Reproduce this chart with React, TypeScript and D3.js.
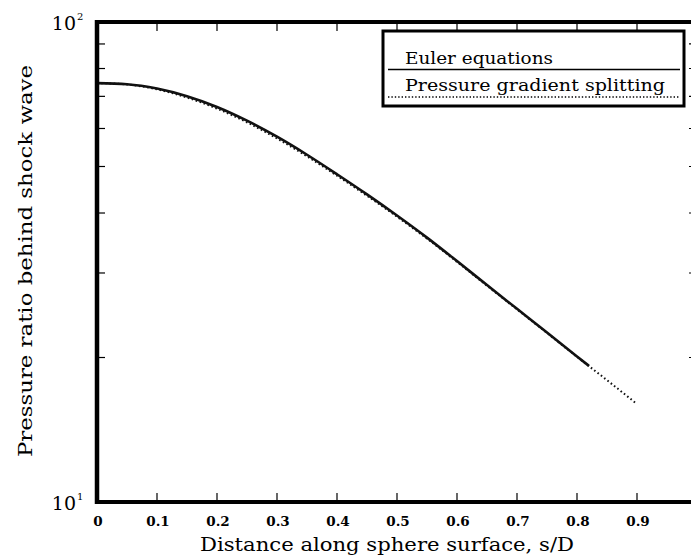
import React from 'react';
import * as d3 from 'd3';

const sEuler = [0, 0.05, 0.1, 0.15, 0.2, 0.25, 0.3, 0.35, 0.4, 0.45, 0.5, 0.55, 0.6, 0.65, 0.7, 0.75, 0.8, 0.82];
const pEuler = [74.6, 74.2, 72.68, 70.05, 66.53, 62.29, 57.68, 52.9, 48.18, 43.74, 39.53, 35.55, 31.76, 28.31, 25.26, 22.54, 20.1, 19.21];
const sSplit = [0, 0.05, 0.1, 0.15, 0.2, 0.25, 0.3, 0.35, 0.4, 0.45, 0.5, 0.55, 0.6, 0.65, 0.7, 0.75, 0.8, 0.85, 0.9];
const pSplit = [74.6, 74.1, 72.4, 69.6, 66.0, 61.8, 57.2, 52.5, 47.85, 43.45, 39.3, 35.38, 31.64, 28.22, 25.2, 22.5, 20.07, 17.94, 16.0];
const xTicks = [0, 0.1, 0.2, 0.3, 0.4, 0.5, 0.6, 0.7, 0.8, 0.9];
const yMinorTicks = [20, 30, 40, 50, 60, 70, 80, 90];
const xTitle = 'Distance along sphere surface, s/D';
const yTitle = 'Pressure ratio behind shock wave';
const legendLabels = ['Euler equations', 'Pressure gradient splitting'];

const FONT = '"DejaVu Serif", "Liberation Serif", serif';

export default function App() {
  const x = d3.scaleLinear().domain([0, 1]).range([97, 697]);
  const y = d3.scaleLog().domain([10, 100]).range([502, 22]);
  const line = d3
    .line<[number, number]>()
    .x((d) => x(d[0]))
    .y((d) => y(d[1]))
    .curve(d3.curveMonotoneX);
  const euler = line(sEuler.map((s, i) => [s, pEuler[i]] as [number, number])) || '';
  const split = line(sSplit.map((s, i) => [s, pSplit[i]] as [number, number])) || '';
  const x0 = x(0);
  const x1 = x(1);
  const yTop = y(100);
  const yBot = y(10);

  return (
    <svg
      width={691}
      height={557}
      style={{ position: 'absolute', left: 0, top: 0, background: '#fff' }}
      fontFamily={FONT}
    >
      <rect x={0} y={0} width={691} height={557} fill="#fff" />
      {/* curves */}
      <path d={split} fill="none" stroke="#111" strokeWidth={2} strokeDasharray="1.6 2.6" />
      <path d={euler} fill="none" stroke="#111" strokeWidth={2.6} />

      {/* axes frame */}
      <line x1={x0} x2={x1} y1={yTop} y2={yTop} stroke="#000" strokeWidth={4} />
      <line x1={x0} x2={x1} y1={yBot} y2={yBot} stroke="#000" strokeWidth={4} />
      <line x1={x0} x2={x0} y1={yTop - 2} y2={yBot + 2} stroke="#000" strokeWidth={4.5} />
      <line x1={x1} x2={x1} y1={yTop} y2={yBot} stroke="#000" strokeWidth={1} />

      {/* x ticks */}
      {xTicks.filter((t) => t > 0).map((t) => (
        <g key={'xt' + t}>
          <line x1={x(t)} x2={x(t)} y1={yBot} y2={yBot - 9} stroke="#000" strokeWidth={1.2} />
          <line x1={x(t)} x2={x(t)} y1={yTop} y2={yTop + 9} stroke="#000" strokeWidth={1.2} />
        </g>
      ))}
      {xTicks.map((t) => (
        <text
          key={'xl' + t}
          x={x(t) + 1}
          y={526}
          textAnchor="middle"
          fontSize={13.5}
          fontWeight="bold"
          fill="#000"
        >
          {t === 0 ? '0' : t.toFixed(1)}
        </text>
      ))}

      {/* y minor ticks */}
      {yMinorTicks.map((t) => (
        <g key={'yt' + t}>
          <line x1={x0} x2={x0 + 8} y1={y(t)} y2={y(t)} stroke="#000" strokeWidth={1.2} />
          <line x1={x1} x2={x1 - 8} y1={y(t)} y2={y(t)} stroke="#000" strokeWidth={1.2} />
        </g>
      ))}

      {/* y decade labels */}
      <text x={76} y={yTop + 8} textAnchor="end" fontSize={19} fill="#000">10</text>
      <text x={77} y={yTop - 2} fontSize={10} fill="#000">2</text>
      <text x={76} y={yBot + 8} textAnchor="end" fontSize={19} fill="#000">10</text>
      <text x={77} y={yBot - 2} fontSize={10} fill="#000">1</text>

      {/* titles */}
      <text
        x={200}
        y={551}
        fontSize={19}
        fill="#000"
        textLength={374}
        lengthAdjust="spacingAndGlyphs"
      >
        {xTitle}
      </text>
      <text
        transform={`translate(32, 457) rotate(-90)`}
        fontSize={19}
        fill="#000"
        textLength={392}
        lengthAdjust="spacingAndGlyphs"
      >
        {yTitle}
      </text>

      {/* legend */}
      <rect x={383} y={31} width={301} height={75} fill="#fff" stroke="#000" strokeWidth={3} />
      <text x={405} y={64} fontSize={17} fill="#000" textLength={148} lengthAdjust="spacingAndGlyphs">
        {legendLabels[0]}
      </text>
      <line x1={388} x2={680} y1={69.5} y2={69.5} stroke="#000" strokeWidth={1.6} />
      <text x={405} y={91} fontSize={17} fill="#000" textLength={260} lengthAdjust="spacingAndGlyphs">
        {legendLabels[1]}
      </text>
      <line x1={388} x2={680} y1={97} y2={97} stroke="#000" strokeWidth={1.4} strokeDasharray="1.4 2" />
    </svg>
  );
}
